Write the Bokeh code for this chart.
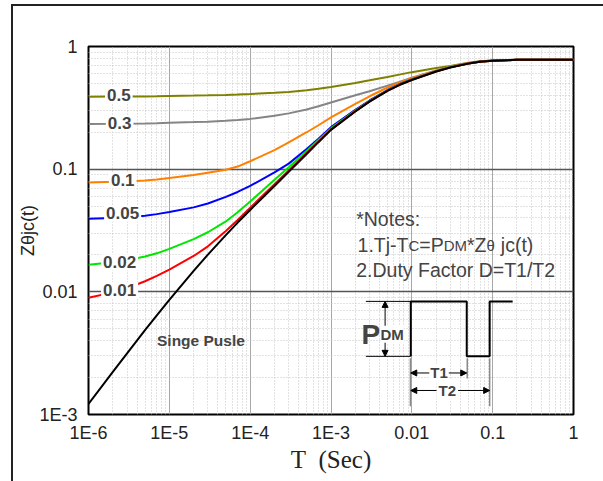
from bokeh.plotting import figure
from bokeh.models import FixedTicker, Label, Arrow, NormalHead
from bokeh.embed import file_html
from bokeh.resources import INLINE

# ---------------- data ----------------
T = [1e-6, 2e-6, 3e-6, 5e-6, 7e-6,
     1e-5, 2e-5, 3e-5, 5e-5, 7e-5,
     1e-4, 2e-4, 3e-4, 5e-4, 7e-4,
     1e-3, 2e-3, 3e-3, 5e-3, 7e-3,
     1e-2, 2e-2, 3e-2, 5e-2, 7e-2,
     1e-1, 2e-1, 3e-1, 5e-1, 7e-1, 1.0]
z_d05 = [0.390, 0.3905, 0.391, 0.392, 0.393,
         0.395, 0.398, 0.400, 0.403, 0.406,
         0.410, 0.419, 0.426, 0.440, 0.452,
         0.468, 0.505, 0.530, 0.565, 0.590,
         0.618, 0.667, 0.694, 0.738, 0.758,
         0.770, 0.778, 0.780, 0.780, 0.780, 0.780]
z_d03 = [0.234, 0.2345, 0.235, 0.236, 0.237,
         0.239, 0.242, 0.244, 0.248, 0.252,
         0.257, 0.272, 0.285, 0.307, 0.326,
         0.350, 0.400, 0.432, 0.480, 0.515,
         0.557, 0.638, 0.684, 0.732, 0.756,
         0.769, 0.778, 0.780, 0.780, 0.780, 0.780]
z_d01 = [0.0780, 0.0788, 0.0795, 0.0810, 0.0825,
         0.0848, 0.0895, 0.0935, 0.0990, 0.1050,
         0.116, 0.143, 0.165, 0.200, 0.228,
         0.264, 0.340, 0.393, 0.463, 0.508,
         0.552, 0.636, 0.683, 0.731, 0.755,
         0.768, 0.778, 0.780, 0.780, 0.780, 0.780]
z_d005 = [0.0394, 0.0400, 0.0406, 0.0418, 0.0430,
          0.0448, 0.0488, 0.0525, 0.0595, 0.0652,
          0.0730, 0.0940, 0.111, 0.146, 0.177,
          0.220, 0.305, 0.363, 0.442, 0.492,
          0.540, 0.630, 0.679, 0.728, 0.753,
          0.767, 0.778, 0.780, 0.780, 0.780, 0.780]
z_d002 = [0.0166, 0.0174, 0.0181, 0.0194, 0.0206,
          0.0224, 0.0269, 0.0306, 0.0375, 0.0445,
          0.0545, 0.0820, 0.1035, 0.141, 0.173,
          0.215, 0.300, 0.359, 0.439, 0.489,
          0.537, 0.628, 0.677, 0.727, 0.752,
          0.766, 0.778, 0.780, 0.780, 0.780, 0.780]
z_d001 = [0.00895, 0.0099, 0.0107, 0.0122, 0.0135,
          0.0152, 0.0196, 0.0235, 0.0313, 0.0385,
          0.0485, 0.0755, 0.0975, 0.1355, 0.1685,
          0.211, 0.297, 0.357, 0.437, 0.487,
          0.535, 0.626, 0.676, 0.726, 0.751,
          0.766, 0.778, 0.780, 0.780, 0.780, 0.780]
z_single = [0.00122, 0.00223, 0.00315, 0.00488, 0.00644,
            0.0086, 0.0148, 0.0201, 0.0290, 0.0367,
            0.0465, 0.0730, 0.0952, 0.133, 0.166,
            0.209, 0.295, 0.355, 0.435, 0.485,
            0.533, 0.625, 0.675, 0.725, 0.750,
            0.765, 0.778, 0.780, 0.780, 0.780, 0.780]

duty_labels = ["0.5", "0.3", "0.1", "0.05", "0.02", "0.01"]
duty_label_x = [1.60e-6, 1.64e-6, 1.79e-6, 1.56e-6, 1.43e-6, 1.43e-6]
duty_label_y = [0.406, 0.236, 0.081, 0.0436, 0.0174, 0.0103]

x_ticks = [1e-6, 1e-5, 1e-4, 1e-3, 1e-2, 1e-1, 1.0]
x_tick_labels = ["1E-6", "1E-5", "1E-4", "1E-3", "0.01", "0.1", "1"]
y_ticks = [1e-3, 1e-2, 1e-1, 1.0]
y_tick_labels = ["1E-3", "0.01", "0.1", "1"]

# pulse diagram (drawn in data coordinates)
pulse_x = [0.0097, 0.0097, 0.0478, 0.0478, 0.0918, 0.0918, 0.1767]
pulse_y = [0.00298, 0.00836, 0.00836, 0.00298, 0.00298, 0.00836, 0.00836]
ref_x0, ref_x1 = 0.0027, 0.0097
level_hi, level_lo = 0.00836, 0.00298
mark_x = [0.0096, 0.0485, 0.0918]
mark_y0 = [0.00288, 0.00288, 0.00288]
mark_y1 = [0.00117, 0.00197, 0.00117]

colors = ["#808000", "#858585", "#ff8000", "#0000ff", "#00e600", "#ff0000"]
series = [z_d05, z_d03, z_d01, z_d005, z_d002, z_d001]

# ---------------- figure ----------------
p = figure(width=603, height=481, x_axis_type="log", y_axis_type="log",
           x_range=(1e-6, 1.0), y_range=(1e-3, 1.0),
           output_backend="svg", toolbar_location=None, tools="",
           min_border_left=88, min_border_right=30, min_border_top=46,
           min_border_bottom=67)
p.background_fill_color = "white"
p.border_fill_color = "white"
p.border_fill_alpha = 0.0
p.outline_line_color = "black"
p.outline_line_width = 2
p.styles = {
    "background": "linear-gradient(#222,#222) 11px 4px / 2px 100% no-repeat, "
                  "linear-gradient(#222,#222) 11px 4px / 100% 2px no-repeat, white"
}

x_minor = [k * 10.0 ** e for e in range(-6, 0) for k in range(2, 10)]
y_minor = [k * 10.0 ** e for e in range(-3, 0) for k in range(2, 10)]
p.xaxis.ticker = FixedTicker(ticks=x_ticks, minor_ticks=x_minor)
p.yaxis.ticker = FixedTicker(ticks=y_ticks, minor_ticks=y_minor)
p.xaxis.major_label_overrides = {t: s for t, s in zip(x_ticks, x_tick_labels)}
p.yaxis.major_label_overrides = {t: s for t, s in zip(y_ticks, y_tick_labels)}

for ax in (p.xaxis, p.yaxis):
    ax.axis_line_color = None
    ax.major_tick_line_color = None
    ax.minor_tick_line_color = None
    ax.major_tick_out = 0
    ax.major_tick_in = 0
    ax.minor_tick_out = 0
    ax.minor_tick_in = 0
    ax.major_label_text_font = "Liberation Sans"
    ax.major_label_text_font_size = "18px"
    ax.major_label_text_color = "#222222"
p.xaxis.major_label_standoff = 8
p.yaxis.major_label_standoff = 11
p.xaxis.axis_label = "T\u00a0\u00a0(Sec)"
p.xaxis.axis_label_text_font = "Liberation Serif"
p.xaxis.axis_label_text_font_size = "25px"
p.xaxis.axis_label_text_font_style = "normal"
p.xaxis.axis_label_text_color = "#222222"
p.xaxis.axis_label_standoff = 0
p.yaxis.axis_label = "Zθjc(t)"
p.yaxis.axis_label_text_font = "Liberation Sans"
p.yaxis.axis_label_text_font_size = "18px"
p.yaxis.axis_label_text_font_style = "normal"
p.yaxis.axis_label_text_color = "#222222"
p.yaxis.axis_label_standoff = -2

p.xgrid.grid_line_color = "#a8a8a8"
p.xgrid.grid_line_width = 1
p.ygrid.grid_line_color = "#555555"
p.ygrid.grid_line_width = 1.5
for g in (p.xgrid, p.ygrid):
    g.minor_grid_line_color = "#c4c4c4"
    g.minor_grid_line_dash = "1 2"
    g.minor_grid_line_width = 1

# curves
for ys, c in zip(series, colors):
    p.line(T, ys, line_color=c, line_width=2)
p.line(T, z_single, line_color="black", line_width=2)

# duty-cycle labels
for txt, lx, ly in zip(duty_labels, duty_label_x, duty_label_y):
    p.add_layout(Label(x=lx, y=ly, text=txt, text_font="Liberation Sans",
                       text_font_size="17px", text_font_style="bold",
                       text_baseline="middle", text_align="left",
                       background_fill_color="white", padding=2))

p.add_layout(Label(x=2.46e-5, y=4.0e-3, text="Singe Pusle", text_font="Liberation Sans",
                   text_font_size="15.5px", text_font_style="bold",
                   text_align="center", text_baseline="middle"))

# notes
notes_x = 2.05e-3
p.add_layout(Label(x=notes_x, y=0.0394, text="*Notes:", text_font="Liberation Sans",
                   text_font_size="19.5px", text_baseline="alphabetic"))
pieces = [("1.Tj-T", 0.0, "19.5px"), ("C", 50.9, "15px"), ("=P", 61.7, "19.5px"),
          ("DM", 86.1, "15px"), ("*Z", 109.4, "19.5px"), ("θ", 129.0, "15px"),
          ("jc(t)", 143.3, "19.5px")]
for txt, off, fs in pieces:
    p.add_layout(Label(x=2.13e-3, y=0.02388, x_offset=off, text=txt,
                       text_font="Liberation Sans", text_font_size=fs,
                       text_baseline="alphabetic"))
p.add_layout(Label(x=notes_x, y=0.01514, text="2.Duty Factor D=T1/T2",
                   text_font="Liberation Sans", text_font_size="19.5px",
                   text_baseline="alphabetic"))

# pulse diagram
p.segment(x0=[ref_x0, ref_x0], y0=[level_hi, level_lo], x1=[ref_x1, ref_x1],
          y1=[level_hi, level_lo], line_color="black", line_width=1)
p.line(pulse_x, pulse_y, line_color="black", line_width=2)
p.segment(x0=mark_x, y0=mark_y0, x1=mark_x, y1=mark_y1, line_color="#8a8a8a",
          line_width=1.5)

def dbl_arrow(x0, y0, x1, y1):
    p.add_layout(Arrow(start=NormalHead(size=6, fill_color="black", line_color="black"),
                       end=NormalHead(size=6, fill_color="black", line_color="black"),
                       x_start=x0, y_start=y0, x_end=x1, y_end=y1,
                       line_color="black", line_width=1))

dbl_arrow(4.67e-3, level_hi, 4.67e-3, level_lo)
dbl_arrow(0.0097, 0.00218, 0.0478, 0.00218)
dbl_arrow(0.0097, 0.00157, 0.0918, 0.00157)

p.add_layout(Label(x=2.38e-3, y=0.0045, text="P", text_font="Liberation Sans",
                   text_font_size="28px", text_font_style="bold",
                   text_baseline="alphabetic"))
p.add_layout(Label(x=4.1e-3, y=0.0045, text="DM", text_font="Liberation Sans",
                   text_font_size="15px", text_font_style="bold",
                   text_baseline="alphabetic", background_fill_color="white"))
p.add_layout(Label(x=0.0217, y=0.00218, text="T1", text_font="Liberation Sans",
                   text_font_size="15px", text_font_style="bold",
                   text_align="center", text_baseline="middle",
                   background_fill_color="white", padding=1))
p.add_layout(Label(x=0.0275, y=0.00157, text="T2", text_font="Liberation Sans",
                   text_font_size="15px", text_font_style="bold",
                   text_align="center", text_baseline="middle",
                   background_fill_color="white", padding=2))

open("out.html", "w").write(file_html(p, INLINE))
